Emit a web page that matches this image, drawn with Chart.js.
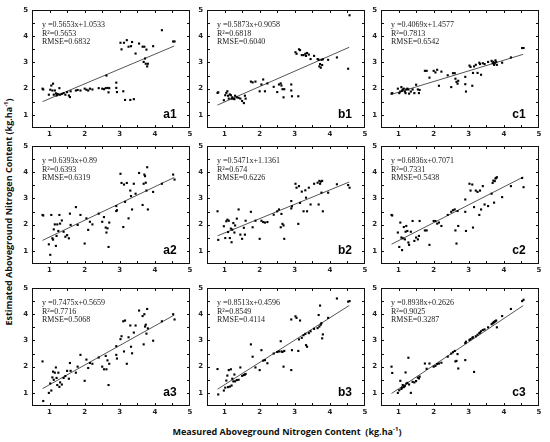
<!DOCTYPE html>
<html>
<head>
<meta charset="utf-8">
<script src="https://cdn.jsdelivr.net/npm/chart.js@4.4.1/dist/chart.umd.min.js"></script>
<style>
  body { margin: 0; background: #fff; width: 550px; height: 442px; position: relative; overflow: hidden; }
  .panel { position: absolute; }
  .title { position: absolute; white-space: nowrap; font-family: "Open Sans", sans-serif; font-weight: bold; font-size: 9px; color: #111; }
  .title sup { font-size: 6px; }
  #ytitle { left: 8px; top: 212px; transform: translate(-50%, -50%) rotate(-90deg); }
  #xtitle { left: 287px; top: 431px; transform: translate(-50%, -50%); }
</style>
</head>
<body>
<div id="xtitle" class="title">Measured Aboveground Nitrogen Content&nbsp; (kg.ha<sup>-1</sup>)</div>
<div id="ytitle" class="title">Estimated Aboveground Nitrogen Content (kg.ha<sup>-1</sup>)</div>
<script>
// panel names, row by row
const panels = ["a1", "b1", "c1", "a2", "b2", "c2", "a3", "b3", "c3"];
const slopes = [0.5653, 0.5873, 0.4069, 0.6393, 0.5471, 0.6836, 0.7475, 0.8513, 0.8938];
const intercepts = [1.0533, 0.9058, 1.4577, 0.89, 1.1361, 0.7071, 0.5659, 0.4596, 0.2626];
const eqText = ["y =0.5653x+1.0533", "y =0.5873x+0.9058", "y =0.4069x+1.4577",
                "y =0.6393x+0.89", "y =0.5471x+1.1361", "y =0.6836x+0.7071",
                "y =0.7475x+0.5659", "y =0.8513x+0.4596", "y =0.8938x+0.2626"];
const r2Text = ["0.5653", "0.6818", "0.7813", "0.6393", "0.674", "0.7331", "0.7716", "0.8549", "0.9025"];
const rmseText = ["0.6832", "0.6040", "0.6542", "0.6319", "0.6226", "0.5438", "0.5068", "0.4114", "0.3287"];
const fitRange = [0.8, 4.55];
const tickVals = [1, 2, 3, 4, 5];

// measured values (shared by all panels)
const measured = [0.8, 0.82, 0.98, 1.02, 1.05, 1.08, 1.1, 1.12, 1.15, 1.18, 1.2, 1.22, 1.25, 1.28, 1.3, 1.35, 1.4, 1.45, 1.5, 1.55, 1.58, 1.6,
  1.75, 1.8, 1.88, 2.0, 2.05, 2.1, 2.15, 2.22, 2.4, 2.5, 2.55, 2.6, 2.62, 2.65, 2.68, 2.7, 2.9, 2.9, 2.92,
  3.02, 3.05, 3.1, 3.12, 3.15, 3.2, 3.25, 3.3, 3.32, 3.35, 3.4, 3.45, 3.55, 3.65, 3.68, 3.7, 3.72, 3.74, 3.76, 3.78, 3.8,
  3.95, 4.2, 4.52, 4.56];

// estimated values per panel
const estA1 = [2.0, 1.97, 1.77, 1.96, 2.12, 1.93, 2.19, 1.77, 1.93, 1.82, 1.74, 1.8, 1.78, 2.02, 1.77, 1.8, 1.83, 1.77, 1.87, 1.74, 1.68, 1.9,
  1.93, 1.95, 1.93, 2.0, 1.96, 1.93, 2.0, 1.97, 2.02, 2.0, 1.98, 2.02, 2.5, 2.03, 1.86, 2.02, 2.23, 2.03, 1.87,
  3.75, 3.5, 1.9, 3.75, 1.57, 3.85, 3.6, 1.57, 3.62, 3.78, 1.6, 3.34, 3.72, 3.6, 3.02, 3.6, 3.15, 2.95, 3.49, 2.85, 2.95,
  3.62, 4.23, 3.8, 3.8];
const estB1 = [1.84, 1.86, 1.56, 1.75, 1.84, 1.9, 1.73, 1.62, 1.78, 1.75, 1.62, 1.67, 1.62, 1.6, 1.73, 1.67, 1.65, 1.62, 1.53, 1.45, 1.73, 1.62,
  2.27, 2.24, 2.27, 1.9, 2.16, 2.35, 1.9, 2.2, 2.07, 1.87, 2.16, 2.2, 2.12, 1.98, 1.67, 1.98, 2.16, 1.93, 1.71,
  3.39, 3.33, 1.71, 3.5, 3.47, 3.28, 3.28, 3.33, 3.25, 3.36, 3.3, 3.13, 3.25, 3.13, 3.1, 2.85, 2.94, 2.8, 3.1, 2.9, 3.12,
  3.1, 3.19, 2.76, 4.8];
const estC1 = [1.81, 1.83, 2.0, 1.83, 1.89, 2.06, 1.92, 1.97, 2.0, 1.89, 1.83, 1.97, 2.0, 1.97, 1.81, 1.89, 1.97, 1.83, 2.15, 1.97, 1.83, 1.95,
  2.68, 2.68, 2.42, 2.68, 2.62, 2.72, 2.11, 2.65, 2.51, 2.06, 2.59, 2.59, 2.38, 2.26, 2.19, 2.3, 2.45, 2.17, 1.89,
  2.88, 2.83, 2.11, 2.6, 2.85, 2.91, 2.6, 2.99, 2.94, 2.53, 2.97, 2.94, 3.02, 3.06, 2.97, 3.02, 2.91, 2.97, 3.08, 3.02, 2.91,
  2.99, 3.19, 3.55, 3.55];
const estA2 = [2.37, 2.35, 1.25, 0.85, 2.37, 1.48, 1.43, 1.82, 2.01, 1.19, 1.57, 2.01, 1.76, 2.37, 2.04, 2.16, 1.73, 1.54, 1.6, 1.48, 2.42, 1.99,
  2.67, 1.99, 2.37, 1.28, 2.24, 1.8, 2.11, 2.01, 2.42, 2.11, 2.29, 1.89, 1.7, 1.86, 1.15, 2.08, 2.71, 2.52, 2.55,
  3.94, 3.59, 1.91, 3.53, 2.87, 3.59, 2.24, 3.3, 3.09, 2.58, 3.56, 3.18, 3.97, 2.75, 3.56, 3.91, 3.85, 3.6, 3.3, 4.19, 2.58,
  3.25, 3.56, 3.91, 3.72];
const estB2 = [2.51, 1.42, 1.94, 1.49, 2.13, 2.19, 1.72, 2.15, 1.49, 1.85, 1.33, 1.81, 2.06, 1.7, 1.97, 2.23, 2.58, 1.62, 1.46, 1.88, 1.62, 2.15,
  2.49, 1.9, 2.15, 1.46, 2.15, 2.1, 2.08, 2.1, 2.38, 2.51, 2.58, 1.9, 2.41, 2.03, 1.97, 1.46, 2.9, 2.62, 2.7,
  3.56, 3.41, 2.03, 3.47, 2.83, 3.26, 2.51, 3.31, 3.03, 2.51, 3.41, 2.77, 3.56, 3.6, 2.77, 3.67, 3.56, 3.64, 3.22, 3.67, 2.51,
  3.22, 3.54, 3.51, 3.41];
const estC2 = [2.37, 2.35, 1.7, 1.15, 2.08, 1.51, 1.03, 1.48, 1.91, 1.44, 1.73, 1.95, 1.76, 1.32, 1.23, 1.73, 2.14, 1.38, 1.51, 1.44, 1.57, 2.14,
  1.78, 1.78, 1.23, 2.14, 2.14, 2.04, 2.08, 1.95, 2.37, 2.49, 2.55, 2.58, 1.78, 1.28, 2.52, 1.95, 2.96, 2.49, 1.76,
  3.56, 3.3, 3.53, 1.89, 2.67, 3.3, 3.25, 2.37, 3.3, 2.58, 3.47, 2.77, 2.71, 3.18, 3.59, 3.68, 2.84, 3.66, 3.76, 3.78, 3.81,
  3.05, 3.47, 3.78, 3.43];
const estA3 = [2.2, 0.69, 1.0, 1.36, 1.09, 1.59, 1.81, 1.5, 1.77, 1.97, 1.57, 1.3, 1.77, 1.23, 1.4, 1.32, 1.57, 1.64, 1.84, 1.54, 2.14, 1.84,
  1.77, 2.0, 2.45, 1.46, 2.27, 1.95, 2.14, 2.11, 2.35, 2.0, 1.9, 2.41, 1.9, 2.24, 1.3, 2.11, 2.78, 2.45, 2.31,
  3.05, 3.16, 3.73, 2.58, 3.76, 2.11, 3.12, 3.57, 2.76, 2.51, 3.3, 3.57, 4.14, 3.93, 2.85, 4.0, 3.53, 3.6, 3.26, 4.2, 3.46,
  2.99, 3.73, 4.0, 3.8];
const estB3 = [1.91, 0.94, 1.09, 1.2, 1.47, 1.66, 1.22, 1.87, 1.24, 1.9, 1.28, 1.54, 1.44, 1.7, 1.44, 1.49, 1.5, 1.97, 1.65, 1.68, 1.7, 1.72,
  2.85, 2.38, 1.97, 1.87, 2.63, 2.23, 2.25, 2.13, 2.5, 2.56, 2.58, 2.97, 2.58, 2.56, 2.0, 2.6, 1.87, 3.8, 2.63,
  3.92, 3.86, 2.6, 3.04, 3.76, 3.1, 3.2, 3.25, 2.82, 2.76, 3.28, 3.35, 3.44, 3.47, 3.97, 3.53, 4.33, 3.6, 3.66, 3.08, 3.23,
  3.86, 4.6, 4.48, 4.5];
const estC3 = [2.0, 1.76, 1.0, 1.1, 1.46, 1.15, 1.2, 1.3, 1.22, 1.26, 1.78, 1.35, 1.38, 2.34, 1.32, 1.0, 1.42, 1.4, 1.45, 1.58, 1.55, 1.62,
  2.12, 1.92, 2.12, 2.0, 2.03, 2.1, 2.12, 2.15, 2.38, 2.5, 2.55, 2.6, 2.2, 2.22, 2.48, 1.93, 2.9, 2.25, 2.95,
  3.02, 3.05, 3.1, 3.12, 1.8, 3.16, 3.22, 3.28, 3.3, 3.35, 3.4, 3.42, 3.5, 3.62, 3.65, 3.68, 3.7, 3.72, 3.74, 3.76, 3.5,
  3.93, 4.2, 4.5, 4.55];
const estimated = [estA1, estB1, estC1, estA2, estB2, estC2, estA3, estB3, estC3];

// layout of the plot boxes
const colLeft = [32, 207, 381];
const rowTop = [10, 146, 288];
const plotW = 158, plotH = 118;
const padL = 18, padT = 5, padR = 6, padB = 13;
const tickFont = 'bold 7px "DejaVu Sans", sans-serif';

// box frame, inward ticks on all sides, tick labels and text inside the box
const framePlugin = {
  id: "frame",
  afterDraw(chart) {
    const { ctx, chartArea: a, scales: { x, y } } = chart;
    const i = chart.options.plugins.frame.index;
    ctx.save();
    ctx.strokeStyle = "#111";
    ctx.lineWidth = 1;
    ctx.strokeRect(Math.round(a.left) + 0.5, Math.round(a.top) + 0.5, Math.round(a.right - a.left) - 1, Math.round(a.bottom - a.top) - 1);
    ctx.beginPath();
    for (let v = 1; v < 5; v += 0.5) {
      const px = Math.round(x.getPixelForValue(v)) + 0.5;
      ctx.moveTo(px, a.bottom); ctx.lineTo(px, a.bottom - 3);
      ctx.moveTo(px, a.top); ctx.lineTo(px, a.top + 3);
      const py = Math.round(y.getPixelForValue(v)) + 0.5;
      ctx.moveTo(a.left, py); ctx.lineTo(a.left + 3, py);
      ctx.moveTo(a.right, py); ctx.lineTo(a.right - 3, py);
    }
    ctx.stroke();

    // tick labels
    ctx.fillStyle = "#222";
    ctx.font = tickFont;
    ctx.textBaseline = "middle";
    ctx.textAlign = "center";
    tickVals.forEach(v => ctx.fillText(String(v), x.getPixelForValue(v), a.bottom + 6));
    ctx.textAlign = "right";
    tickVals.forEach(v => ctx.fillText(String(v), a.left - 4, y.getPixelForValue(v)));

    ctx.fillStyle = "#222";
    ctx.font = '8px "Liberation Serif", serif';
    ctx.textAlign = "left";
    ctx.fillText(eqText[i], a.left + 10, a.top + 15);
    ctx.fillText("R\u00b2=" + r2Text[i], a.left + 10, a.top + 23.5);
    ctx.fillText("RMSE=" + rmseText[i], a.left + 10, a.top + 32);

    ctx.fillStyle = "#000";
    ctx.font = 'bold 12px "Liberation Sans", sans-serif';
    ctx.textAlign = "center";
    ctx.fillText(panels[i], a.right - 20, a.bottom - 13);
    ctx.restore();
  }
};

panels.forEach((name, i) => {
  const row = Math.floor(i / 3), col = i % 3;
  const div = document.createElement("div");
  div.className = "panel";
  div.style.left = (colLeft[col] - padL) + "px";
  div.style.top = (rowTop[row] - padT) + "px";
  const canvas = document.createElement("canvas");
  canvas.width = padL + plotW + padR;
  canvas.height = padT + plotH + padB;
  div.appendChild(canvas);
  document.body.appendChild(div);

  const points = measured.map((m, k) => ({ x: m, y: estimated[i][k] }));
  const fit = fitRange.map(m => ({ x: m, y: slopes[i] * m + intercepts[i] }));

  new Chart(canvas.getContext("2d"), {
    type: "scatter",
    data: {
      datasets: [
        { data: points, pointStyle: "rect", pointRadius: 1.5, backgroundColor: "#000", borderWidth: 0 },
        { data: fit, showLine: true, pointRadius: 0, borderColor: "#555", borderWidth: 1, fill: false }
      ]
    },
    options: {
      responsive: false,
      animation: false,
      devicePixelRatio: 1,
      layout: { padding: { left: 0, top: padT, right: padR, bottom: 0 } },
      plugins: { legend: { display: false }, tooltip: { enabled: false }, frame: { index: i } },
      scales: {
        x: {
          type: "linear", min: 0.5, max: 5,
          grid: { display: false }, border: { display: false },
          afterFit: s => { s.height = padB; },
          ticks: { display: false }
        },
        y: {
          type: "linear", min: 0.5, max: 5,
          grid: { display: false }, border: { display: false },
          afterFit: s => { s.width = padL; },
          ticks: { display: false }
        }
      }
    },
    plugins: [framePlugin]
  });
});
</script>
</body>
</html>
